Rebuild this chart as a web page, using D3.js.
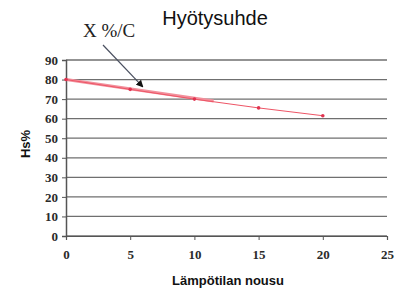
<!DOCTYPE html>
<html>
<head>
<meta charset="utf-8">
<script src="https://cdn.jsdelivr.net/npm/d3@7"></script>
<style>
  body { margin: 0; background: #fff; }
  svg { display: block; }
  .axis text { font-family: "Liberation Serif", "DejaVu Serif", serif; font-weight: bold; font-size: 13px; }
</style>
</head>
<body>
<div class="chart"></div>
<script>
// data
let rise = [0, 5, 10, 15, 20];
let efficiency = [80, 75, 70, 65.5, 61.5];
let trendX = [0, 11.5];
let trendY = [80, 69];
let xTicks = [0, 5, 10, 15, 20, 25];
let yTicks = [0, 10, 20, 30, 40, 50, 60, 70, 80, 90];

let width = 408;
let height = 290;
let margin = { top: 60, right: 21, bottom: 54, left: 66 };
let plotW = width - margin.left - margin.right;
let plotH = height - margin.top - margin.bottom;

let svg = d3.select(".chart").append("svg")
    .attr("width", width)
    .attr("height", height);

let xScale = d3.scaleLinear().domain([0, 25]).range([0, plotW]);
let yScale = d3.scaleLinear().domain([0, 90]).range([plotH, 0]);

let plot = svg.append("g").attr("transform", `translate(${margin.left},${margin.top})`);

// horizontal gridlines
plot.append("g")
    .selectAll("line")
    .data(yTicks)
    .enter()
    .append("line")
    .attr("x1", 0)
    .attr("x2", plotW)
    .attr("y1", d => yScale(d))
    .attr("y2", d => yScale(d))
    .attr("stroke", "#6f6f6f")
    .attr("stroke-width", 1.3);

// y axis
let yAxis = plot.append("g")
    .attr("class", "axis")
    .call(d3.axisLeft(yScale).tickValues(yTicks).tickSize(4).tickPadding(4));
yAxis.attr("font-family", null).attr("font-size", null);
yAxis.select(".domain").attr("stroke", "#555").attr("stroke-width", 1.5);
yAxis.selectAll(".tick line").attr("stroke", "#555");
yAxis.selectAll("text").attr("fill", "#2a2a2a");

// x axis
let xAxis = plot.append("g")
    .attr("class", "axis")
    .attr("transform", `translate(0,${plotH})`)
    .call(d3.axisBottom(xScale).tickValues(xTicks).tickSize(4).tickPadding(10));
xAxis.attr("font-family", null).attr("font-size", null);
xAxis.select(".domain").attr("stroke", "#555").attr("stroke-width", 1.2);
xAxis.selectAll(".tick line").attr("stroke", "#555");
xAxis.selectAll("text").attr("fill", "#2a2a2a");

// thick pink slope segment
let trend = trendX.map((x, i) => ({ x: x, y: trendY[i] }));
let line = d3.line().x(d => xScale(d.x)).y(d => yScale(d.y));
plot.append("path")
    .attr("d", line(trend))
    .attr("fill", "none")
    .attr("stroke", "#f2909c")
    .attr("stroke-width", 3);

// data line
let points = rise.map((x, i) => ({ x: x, y: efficiency[i] }));
plot.append("path")
    .attr("d", line(points))
    .attr("fill", "none")
    .attr("stroke", "#ee5566")
    .attr("stroke-width", 1);

plot.selectAll(".pt")
    .data(points)
    .enter()
    .append("circle")
    .attr("class", "pt")
    .attr("cx", d => xScale(d.x))
    .attr("cy", d => yScale(d.y))
    .attr("r", 1.8)
    .attr("fill", "#e03350");

// annotation arrow
svg.append("defs").append("marker")
    .attr("id", "arrow")
    .attr("viewBox", "0 0 10 10")
    .attr("refX", 8)
    .attr("refY", 5)
    .attr("markerWidth", 6)
    .attr("markerHeight", 6)
    .attr("orient", "auto")
    .append("path")
    .attr("d", "M0,0L10,5L0,10z")
    .attr("fill", "#111");

svg.append("line")
    .attr("x1", 103)
    .attr("y1", 45)
    .attr("x2", xScale(5.95) + margin.left)
    .attr("y2", yScale(76.5) + margin.top)
    .attr("stroke", "#4a5060")
    .attr("stroke-width", 1.2)
    .attr("marker-end", "url(#arrow)");

svg.append("text")
    .attr("x", 83)
    .attr("y", 37)
    .attr("font-family", "Liberation Serif, serif")
    .attr("font-size", 19)
    .attr("fill", "#222")
    .text("X %/C");

// title
svg.append("text")
    .attr("x", 215)
    .attr("y", 25)
    .attr("text-anchor", "middle")
    .attr("font-family", "Liberation Sans, Arial, sans-serif")
    .attr("font-size", 20)
    .attr("fill", "#111")
    .text("Hyötysuhde");

// axis titles
svg.append("text")
    .attr("transform", `translate(30,${margin.top + plotH / 2 - 4}) rotate(-90)`)
    .attr("text-anchor", "middle")
    .attr("font-family", "Liberation Sans, Arial, sans-serif")
    .attr("font-weight", "bold")
    .attr("font-size", 13)
    .attr("fill", "#111")
    .text("Hs%");

svg.append("text")
    .attr("x", 228)
    .attr("y", 285)
    .attr("text-anchor", "middle")
    .attr("font-family", "Liberation Sans, Arial, sans-serif")
    .attr("font-weight", "bold")
    .attr("font-size", 13)
    .attr("fill", "#111")
    .text("Lämpötilan nousu");
</script>
</body>
</html>
